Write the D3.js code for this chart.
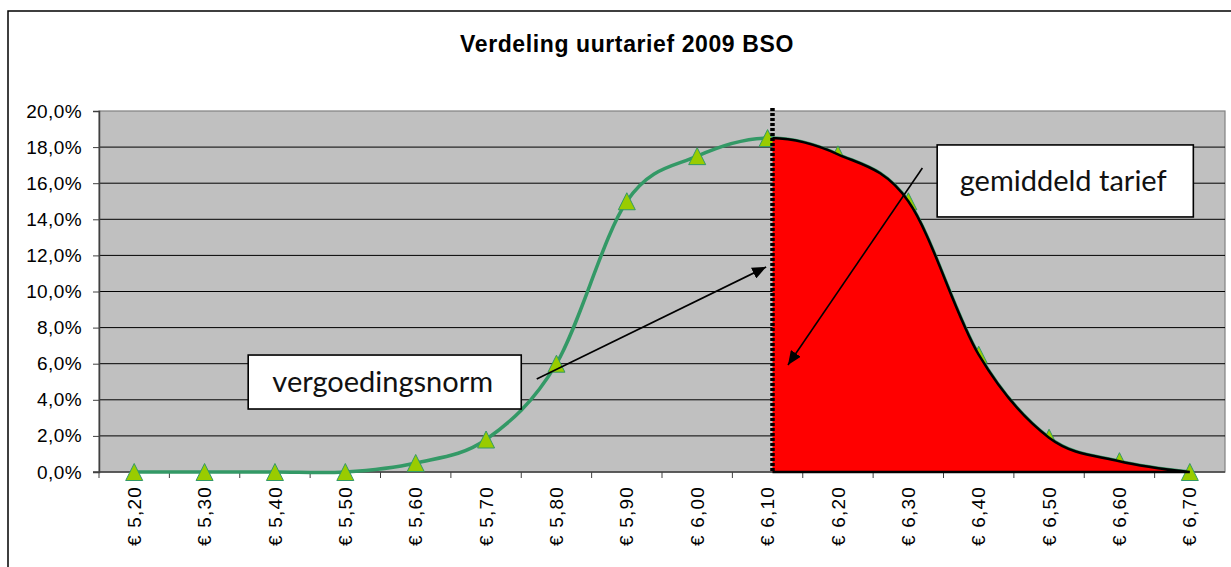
<!DOCTYPE html>
<html>
<head>
<meta charset="utf-8">
<script src="https://cdn.jsdelivr.net/npm/d3@7"></script>
<style>
 body { margin: 0; background: #fff; overflow: hidden; }
 text { font-family: "Liberation Sans", Arial, sans-serif; }
 .note { font-family: Lato, "Open Sans", sans-serif; }
</style>
</head>
<body>
<div id="chart"></div>
<script>
// uurtarief (euro) en aandeel van de aanbieders
var tarieven = [5.20, 5.30, 5.40, 5.50, 5.60, 5.70, 5.80, 5.90, 6.00, 6.10, 6.20, 6.30, 6.40, 6.50, 6.60, 6.70];
var aandeel  = [0, 0, 0, 0, 0.005, 0.018, 0.060, 0.150, 0.175, 0.185, 0.176, 0.150, 0.065, 0.019, 0.006, 0];
var yTicks = [0, 0.02, 0.04, 0.06, 0.08, 0.10, 0.12, 0.14, 0.16, 0.18, 0.20];
var title = "Verdeling uurtarief 2009 BSO";

// annotations, in category-index / value units
var normIdx = 9.07;
var boxes = [
  {label: "vergoedingsnorm", i0: 1.62, i1: 5.50, v0: 0.0349, v1: 0.0648},
  {label: "gemiddeld tarief", i0: 11.41, i1: 15.05, v0: 0.1413, v1: 0.1812}
];
var arrows = [
  {i0: 5.72, v0: 0.0515, i1: 8.98, v1: 0.1136},
  {i0: 11.20, v0: 0.1684, i1: 9.29, v1: 0.0593}
];

var props = {width: 1231, height: 567, left: 99, right: 1225, top: 111, bottom: 472};

var nl = d3.formatLocale({decimal: ",", thousands: ".", grouping: [3], currency: ["€ ", ""]});
var pct = nl.format(".1%");
var euro = nl.format("$.2f");

var svg = d3.select("#chart").append("svg").attr("width", props.width).attr("height", props.height)
  .style("display", "block");

var x = d3.scaleBand().domain(tarieven).range([props.left, props.right]).padding(0);
var bw = x.bandwidth();
var xi = d3.scaleLinear().domain([0, 1]).range([props.left + bw / 2, props.left + bw * 1.5]);
var y = d3.scaleLinear().domain([0, 0.2]).range([props.bottom, props.top]);

// outer chart frame (only left and top edges fall inside the picture)
svg.append("path").attr("d", "M8," + props.height + "V11H" + props.width)
  .style("fill", "none").style("stroke", "#000").style("stroke-width", 1.5);

svg.append("text").attr("x", 627).attr("y", 52).attr("text-anchor", "middle")
  .style("font-size", "23px").style("font-weight", "bold").style("letter-spacing", "0.6px")
  .text(title);

// plot area
svg.append("rect").attr("x", props.left).attr("y", props.top)
  .attr("width", props.right - props.left).attr("height", props.bottom - props.top)
  .style("fill", "#c0c0c0").style("stroke", "#808080").style("stroke-width", 1.2);

svg.append("g").selectAll("line").data(yTicks.slice(1, -1)).enter().append("line")
  .attr("x1", props.left).attr("x2", props.right)
  .attr("y1", function(d){ return y(d); }).attr("y2", function(d){ return y(d); })
  .style("stroke", "#000").style("stroke-width", 1);

// y axis
var yAxis = d3.axisLeft(y).tickValues(yTicks).tickFormat(pct).tickSize(6).tickPadding(11);
var ya = svg.append("g").attr("transform", "translate(" + props.left + ",0)").call(yAxis);
ya.select(".domain").style("stroke", "#404040").style("stroke-width", 1.5);
ya.selectAll(".tick line").style("stroke", "#404040");
ya.selectAll("text").style("font-size", "19px").style("letter-spacing", "0.4px")
  .style("fill", "#000").attr("font-family", null);

// x axis: ticks between categories
var xa = svg.append("g");
xa.append("line").attr("x1", props.left - 6).attr("x2", props.right)
  .attr("y1", props.bottom).attr("y2", props.bottom)
  .style("stroke", "#404040").style("stroke-width", 1.5);
xa.selectAll(".xt").data(tarieven).enter().append("line").attr("class", "xt")
  .attr("x1", function(d){ return x(d); }).attr("x2", function(d){ return x(d); })
  .attr("y1", props.bottom).attr("y2", props.bottom + 6)
  .style("stroke", "#404040");
xa.selectAll(".xl").data(tarieven).enter().append("text").attr("class", "xl")
  .attr("transform", function(d){ return "translate(" + (x(d) + bw / 2) + "," + (props.bottom + 14) + ") rotate(-90)"; })
  .attr("text-anchor", "end").attr("dy", "0.35em")
  .style("font-size", "19px").style("letter-spacing", "1.2px")
  .text(function(d){ return euro(d); });

// series
var pts = tarieven.map(function(t, i){ return [x(t) + bw / 2, y(aandeel[i])]; });
var curve = d3.curveCardinal.tension(0);

svg.append("path").attr("d", d3.line().curve(curve)(pts))
  .style("fill", "none").style("stroke", "#339966").style("stroke-width", 3.5);

svg.append("g").selectAll("path").data(pts).enter().append("path")
  .attr("transform", function(d){ return "translate(" + d[0] + "," + d[1] + ")"; })
  .attr("d", "M0,-8.5L8.5,8.5L-8.5,8.5Z")
  .style("fill", "#99cc00").style("stroke", "#339966").style("stroke-width", 1);

// red area right of the norm
var normX = xi(normIdx);
svg.append("clipPath").attr("id", "rechts").append("rect")
  .attr("x", normX).attr("y", props.top - 5).attr("width", props.right - normX).attr("height", props.bottom - props.top + 7);

svg.append("path").attr("clip-path", "url(#rechts)")
  .attr("d", d3.area().curve(curve).x(function(d){ return d[0]; }).y0(y(0)).y1(function(d){ return d[1]; })(pts))
  .style("fill", "#ff0000").style("stroke", "#000").style("stroke-width", 2.5);

svg.append("line").attr("x1", normX).attr("x2", normX).attr("y1", props.top - 3).attr("y2", props.bottom)
  .style("stroke", "#000").style("stroke-width", 4.5).style("stroke-dasharray", "3,2");

// arrows
svg.append("defs").append("marker").attr("id", "pijl")
  .attr("markerUnits", "userSpaceOnUse").attr("markerWidth", 15).attr("markerHeight", 12)
  .attr("refX", 14).attr("refY", 6).attr("orient", "auto")
  .append("path").attr("d", "M0,0L14,6L0,12Z").style("fill", "#000");

svg.append("g").selectAll("line").data(arrows).enter().append("line")
  .attr("x1", function(d){ return xi(d.i0); }).attr("y1", function(d){ return y(d.v0); })
  .attr("x2", function(d){ return xi(d.i1); }).attr("y2", function(d){ return y(d.v1); })
  .attr("marker-end", "url(#pijl)")
  .style("stroke", "#000").style("stroke-width", 1.6);

// text boxes
var bx = svg.append("g").selectAll("g").data(boxes).enter().append("g");
bx.append("rect")
  .attr("x", function(d){ return xi(d.i0); }).attr("y", function(d){ return y(d.v1); })
  .attr("width", function(d){ return xi(d.i1) - xi(d.i0); })
  .attr("height", function(d){ return y(d.v0) - y(d.v1); })
  .style("fill", "#fff").style("stroke", "#000").style("stroke-width", 1.6);
bx.append("text").attr("class", "note")
  .attr("x", function(d){ return (xi(d.i0) + xi(d.i1)) / 2 - 2; })
  .attr("y", function(d){ return (y(d.v0) + y(d.v1)) / 2; })
  .attr("dy", "0.35em").attr("text-anchor", "middle")
  .style("font-size", "29px").style("fill", "#111")
  .text(function(d){ return d.label; });
</script>
</body>
</html>
